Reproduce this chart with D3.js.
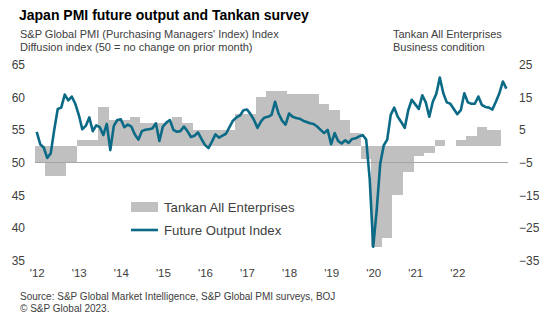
<!DOCTYPE html>
<html><head><meta charset="utf-8">
<script src="https://cdn.jsdelivr.net/npm/d3@7"></script>
<style>body{margin:0;background:#fff}svg{display:block;font-family:"Liberation Sans",Arial,sans-serif}</style>
</head><body><svg id="c" width="555" height="335"></svg>
<script>
// ---- data ----
const pmiFirstMonth = "2012-04";
const pmiValues = [
 54.7,52.8,52.3,50.7,51.4,55.0,58.2,58.4,60.4,59.5,60.1,59.0,
 57.3,55.1,55.6,56.9,54.8,55.7,55.4,54.2,55.9,51.9,55.6,56.5,
 56.6,55.4,55.8,55.5,54.3,53.5,54.8,55.0,55.1,55.2,56.0,53.3,
 55.5,56.1,56.5,55.0,54.7,54.8,55.5,54.8,53.9,54.1,54.6,53.6,
 52.7,52.2,53.2,54.3,53.8,54.1,54.4,55.4,56.4,56.9,57.2,58.0,
 58.1,57.4,56.5,55.3,56.3,56.9,57.0,57.3,59.3,57.5,56.4,55.8,
 57.5,57.0,56.8,56.7,56.4,56.2,56.0,55.9,55.5,55.0,54.5,55.0,
 52.8,54.5,53.3,52.9,53.4,53.0,53.6,53.7,54.0,54.2,53.5,47.5,
 37.1,42.7,49.8,52.6,53.5,57.3,58.4,57.0,56.2,55.3,58.0,59.6,
 58.9,58.2,60.3,59.2,57.0,59.3,60.5,63.0,60.6,59.2,59.0,58.2,
 57.4,58.0,60.6,59.2,59.0,59.0,60.1,58.8,58.5,58.4,58.1,59.3,
 60.6,62.4,61.3
];
const tankanFirstMonth = "2012-04";
const tankanLastMonth = "2023-04";
const tankanValues = [
 -5,-9,-9,-5,2,2,12,8,8,9,7,7,7,9,7,5,5,5,5,10,10,15,17,17,
 16,16,16,13,11,8,4,-4,-31,-28,-15,-8,-3,-2,2,0,2,3,6,5
];
const yearLabels = ["'12","'13","'14","'15","'16","'17","'18","'19","'20","'21","'22"];
const leftTicks = [35,40,45,50,55,60,65];
const rightTicks = [-35,-25,-15,-5,5,15,25];

// ---- helpers ----
function monthIndex(s, base){
  const [y,m]=s.split("-").map(Number), [by,bm]=base.split("-").map(Number);
  return (y-by)*12+(m-bm);
}
const svg = d3.select("#c");
const teal = "#0b6a86", gray = "#c0c0c0", txt = "#404040";

const x = d3.scaleLinear().domain([0, pmiValues.length-1]).range([36.7, 506.4]);
const yL = d3.scaleLinear().domain([35,65]).range([260.5,64.5]);
const yR = d3.scaleLinear().domain([-35,25]).range([260.5,64.5]);
const step = x(1)-x(0);

// ---- tankan bars ----
const t0 = monthIndex(tankanFirstMonth, pmiFirstMonth);
const tEnd = monthIndex(tankanLastMonth, pmiFirstMonth);
const bars = tankanValues.map((v,k)=>{
  const s = t0 + 3*k;
  const e = (k===tankanValues.length-1) ? tEnd : s+2;
  return {s,e,v};
});
svg.append("g").selectAll("rect").data(bars).join("rect")
  .attr("x", d=>x(d.s)-step/2)
  .attr("width", d=>x(d.e)-x(d.s)+step)
  .attr("y", d=>yR(Math.max(0,d.v)))
  .attr("height", d=>Math.abs(yR(d.v)-yR(0)))
  .attr("fill", gray).attr("shape-rendering","crispEdges");

// ---- 50 line ----
svg.append("line").attr("x1",35).attr("x2",508).attr("y1",yL(50)).attr("y2",yL(50))
  .attr("stroke","#a6a6a6").attr("stroke-width",1);

// ---- PMI line ----
svg.append("path").datum(pmiValues)
  .attr("d", d3.line().x((d,i)=>x(i)).y(d=>yL(d)))
  .attr("fill","none").attr("stroke",teal).attr("stroke-width",2.6)
  .attr("stroke-linejoin","round");

// ---- axes ----
function styleAxis(g, size){
  g.select(".domain").remove();
  g.selectAll("text").attr("fill",txt).style("font-size",size+"px")
    .style("font-family",'"Liberation Sans",Arial,sans-serif');
}
svg.append("g").attr("transform","translate(25,0)")
  .call(d3.axisLeft(yL).tickValues(leftTicks).tickSize(0).tickPadding(0))
  .call(g=>styleAxis(g,12));
svg.append("g").attr("transform","translate(519,0)")
  .call(d3.axisRight(yR).tickValues(rightTicks).tickSize(0).tickPadding(0))
  .call(g=>styleAxis(g,12));
svg.append("g").attr("transform","translate(0,269)")
  .call(d3.axisBottom(x).tickValues(yearLabels.map((d,i)=>i*12))
        .tickFormat((d,i)=>yearLabels[i]).tickSize(0).tickPadding(0))
  .call(g=>styleAxis(g,11.5));

// ---- texts ----
function text(xp,yp,s,size,opts={}){
  const t = svg.append("text").attr("x",xp).attr("y",yp).text(s)
    .style("font-size",size+"px").attr("fill",opts.fill||txt);
  if(opts.bold) t.style("font-weight","bold");
  return t;
}
text(19,20,"Japan PMI future output and Tankan survey",14,{bold:true,fill:"#000"});
text(20,38,"S&P Global PMI (Purchasing Managers' Index) Index",11);
text(20,51,"Diffusion index (50 = no change on prior month)",11);
text(393,38,"Tankan All Enterprises",11);
text(393,51,"Business condition",11);

// legend
svg.append("rect").attr("x",131).attr("y",202).attr("width",27).attr("height",10).attr("fill",gray);
text(164,211.5,"Tankan All Enterprises",13.2);
svg.append("line").attr("x1",131).attr("x2",158).attr("y1",230).attr("y2",230)
  .attr("stroke",teal).attr("stroke-width",2.6);
text(164,234.5,"Future Output Index",13.2);

// source
text(20,299.5,"Source: S&P Global Market Intelligence, S&P Global PMI surveys, BOJ",10);
text(20,311.5,"© S&P Global 2023.",10);
</script></body></html>
